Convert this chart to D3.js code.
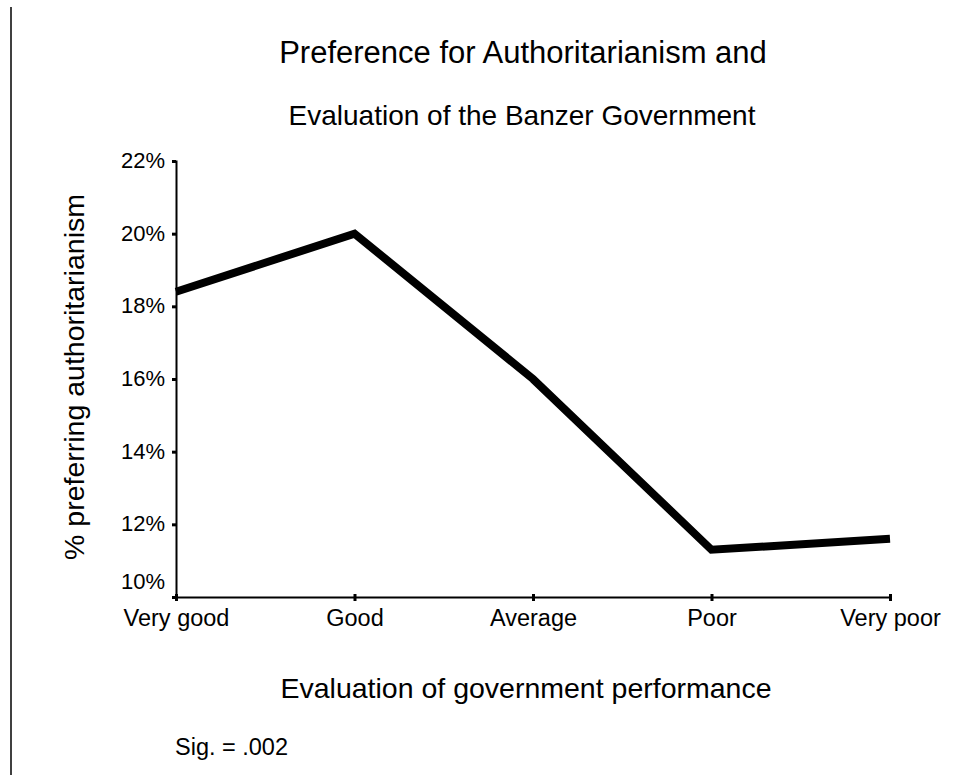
<!DOCTYPE html>
<html>
<head>
<meta charset="utf-8">
<script src="https://cdn.jsdelivr.net/npm/d3@7"></script>
<style>
  html, body { margin: 0; padding: 0; background: #fff; }
  svg { display: block; }
  text { font-family: "Liberation Sans", Arial, sans-serif; fill: #000; }
</style>
</head>
<body>
<svg id="chart" width="974" height="775"></svg>
<script>
const categories = ["Very good", "Good", "Average", "Poor", "Very poor"];
const values = [18.4, 20.0, 16.0, 11.3, 11.6];
const yTicks = [10, 12, 14, 16, 18, 20, 22];
const titleLines = ["Preference for Authoritarianism and", "Evaluation of the Banzer Government"];
const xTitle = "Evaluation of government performance";
const yTitle = "% preferring authoritarianism";
const note = "Sig. = .002";

(function () {
const svg = d3.select("#chart");
const W = 974, H = 775;
const mLeft = 176, mRight = 890, mTop = 161, mBottom = 597;

svg.append("rect").attr("width", W).attr("height", H).attr("fill", "#fff");

// left frame line
svg.append("line").attr("x1", 11).attr("x2", 11).attr("y1", 7).attr("y2", H)
  .attr("stroke", "#000").attr("stroke-width", 1.5);

const x = d3.scalePoint().domain(categories).range([mLeft, mRight]);
const y = d3.scaleLinear().domain([10, 22]).range([mBottom, mTop]);

// titles
svg.append("text").attr("x", 523).attr("y", 63).attr("text-anchor", "middle")
  .style("font-size", "31px").text(titleLines[0]);
svg.append("text").attr("x", 522).attr("y", 125).attr("text-anchor", "middle")
  .style("font-size", "28px").text(titleLines[1]);

// y axis
const yAxis = d3.axisLeft(y).tickValues(yTicks).tickSize(4).tickPadding(7)
  .tickFormat(d => d + "%");
const gy = svg.append("g").attr("transform", `translate(${mLeft},0)`).call(yAxis);
gy.select(".domain").attr("stroke", "#000").attr("stroke-width", 2);
gy.selectAll(".tick line").attr("stroke", "#000").attr("stroke-width", 3);
gy.selectAll(".tick text").style("font-size", "22px").attr("fill", "#000")
  .attr("dy", d => d === 10 ? "-0.4em" : "0.3em");

// x axis
const xAxis = d3.axisBottom(x).tickSize(4).tickPadding(8);
const gx = svg.append("g").attr("transform", `translate(0,${mBottom})`).call(xAxis);
gx.select(".domain").attr("stroke", "#000").attr("stroke-width", 2);
gx.selectAll(".tick line").attr("y1", -3).attr("y2", 4).attr("stroke", "#000").attr("stroke-width", 3);
gx.selectAll(".tick text").style("font-size", "23.5px").attr("fill", "#000");

// line
const line = d3.line().x((d, i) => x(categories[i])).y(d => y(d));
svg.append("path").datum(values).attr("d", line)
  .attr("fill", "none").attr("stroke", "#000").attr("stroke-width", 8)
  .attr("stroke-linejoin", "miter");

// axis titles
svg.append("text").attr("x", 526).attr("y", 698).attr("text-anchor", "middle")
  .style("font-size", "28.5px").text(xTitle);
svg.append("text").attr("transform", "translate(84,377) rotate(-90)")
  .attr("text-anchor", "middle").style("font-size", "28.5px").text(yTitle);

// note
svg.append("text").attr("x", 175).attr("y", 755).style("font-size", "23.5px").text(note);
})();
</script>
</body>
</html>
